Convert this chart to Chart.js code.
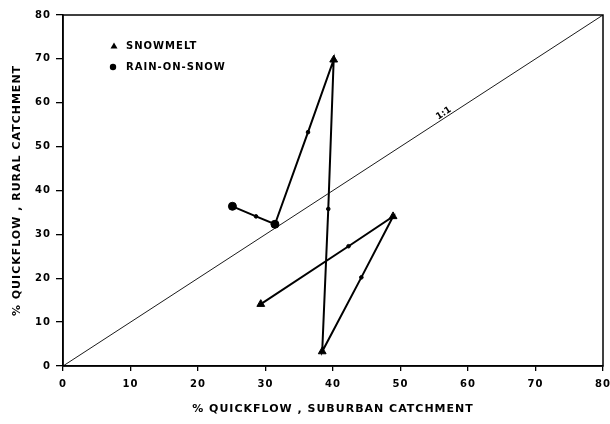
<!DOCTYPE html>
<html>
<head>
<meta charset="utf-8">
<script src="https://cdn.jsdelivr.net/npm/chart.js@4/dist/chart.umd.min.js"></script>
<style>
  html, body { margin: 0; padding: 0; background: #fff; }
  #wrap { width: 610px; height: 424px; }
</style>
</head>
<body>
<div id="wrap"><canvas id="chart"></canvas></div>
<script>
// Hysteresis path of quickflow, suburban vs rural catchment
const pathX = [25.1, 28.6, 31.4, 36.3, 40.1, 39.3, 38.4, 44.2, 48.9, 42.3, 29.3];
const pathY = [36.4, 34.1, 32.3, 53.3, 69.8, 35.8, 3.3, 20.2, 34.1, 27.3, 14.1];
// rain = rain-on-snow event, snow = snowmelt event, mid = direction mark
const pathKind = ['rain', 'mid', 'rain', 'mid', 'snow', 'mid', 'snow', 'mid', 'snow', 'mid', 'snow'];

const lineX = [0, 80];
const lineY = [0, 80];
const lineLabel = '1:1';

const xTicks = [0, 10, 20, 30, 40, 50, 60, 70, 80];
const yTicks = [0, 10, 20, 30, 40, 50, 60, 70, 80];

const legendItems = ['SNOWMELT', 'RAIN-ON-SNOW'];
const xTitle = '% QUICKFLOW , SUBURBAN CATCHMENT';
const yTitle = '% QUICKFLOW , RURAL CATCHMENT';

const FONT = "'DejaVu Sans', sans-serif";

const styleFor = {
    rain: { style: 'circle', r: 4 },
    snow: { style: 'triangle', r: 4.5 },
    mid: { style: 'circle', r: 1.8 }
};

// letter spacing to mimic the wide stencil type of the original
const spacingPlugin = {
    id: 'spacing',
    beforeUpdate(chart) { chart.ctx.letterSpacing = '1px'; },
    beforeDraw(chart) { chart.ctx.letterSpacing = '1px'; }
};

const framePlugin = {
    id: 'frame',
    afterDatasetsDraw(chart) {
        const { ctx, chartArea: a, scales } = chart;
        ctx.save();
        ctx.strokeStyle = '#000';
        ctx.lineWidth = 1.5;
        ctx.strokeRect(a.left, a.top, a.right - a.left, a.bottom - a.top);

        // 1:1 label along the diagonal
        const px = scales.x.getPixelForValue(56.4);
        const py = scales.y.getPixelForValue(57.6);
        const ang = Math.atan2(scales.y.getPixelForValue(1) - scales.y.getPixelForValue(0),
                               scales.x.getPixelForValue(1) - scales.x.getPixelForValue(0));
        ctx.translate(px, py);
        ctx.rotate(ang);
        ctx.fillStyle = '#000';
        ctx.font = 'bold 9px ' + FONT;
        ctx.letterSpacing = '0px';
        ctx.textAlign = 'center';
        ctx.textBaseline = 'middle';
        ctx.fillText(lineLabel, 0, 0);
        ctx.restore();

        // legend inside the plot
        ctx.save();
        ctx.fillStyle = '#000';
        ctx.font = 'bold 10px ' + FONT;
        ctx.letterSpacing = '1px';
        ctx.textBaseline = 'middle';
        ctx.textAlign = 'left';
        const lx = 114, tx = 126;
        const ly = [46, 67];
        // triangle
        ctx.beginPath();
        ctx.moveTo(lx, ly[0] - 3.5);
        ctx.lineTo(lx + 3.5, ly[0] + 2.5);
        ctx.lineTo(lx - 3.5, ly[0] + 2.5);
        ctx.closePath();
        ctx.fill();
        ctx.fillText(legendItems[0], tx, ly[0]);
        // circle
        ctx.beginPath();
        ctx.arc(lx - 1, ly[1], 3.2, 0, Math.PI * 2);
        ctx.fill();
        ctx.fillText(legendItems[1], tx, ly[1]);
        ctx.restore();
    }
};

const ctx = document.getElementById('chart');
new Chart(ctx, {
    type: 'scatter',
    data: {
        datasets: [
            {
                data: lineX.map((x, i) => ({ x, y: lineY[i] })),
                showLine: true,
                borderColor: '#000',
                borderWidth: 0.9,
                pointRadius: 0
            },
            {
                data: pathX.map((x, i) => ({ x, y: pathY[i] })),
                showLine: true,
                borderColor: '#000',
                backgroundColor: '#000',
                borderWidth: 2,
                pointStyle: pathKind.map(k => styleFor[k].style),
                pointRadius: pathKind.map(k => styleFor[k].r),
                pointBorderWidth: 1
            }
        ]
    },
    options: {
        responsive: true,
        maintainAspectRatio: false,
        animation: false,
        layout: { padding: { top: 15, right: 7, left: 0, bottom: 0 } },
        plugins: {
            legend: { display: false },
            tooltip: { enabled: false }
        },
        scales: {
            x: {
                type: 'linear',
                min: 0,
                max: 80,
                afterBuildTicks: s => { s.ticks = xTicks.map(v => ({ value: v })); },
                afterFit: s => { s.height = 58; s.paddingLeft = 0; s.paddingRight = 0; },
                grid: { drawOnChartArea: false, drawTicks: true, tickLength: 5, color: '#000', lineWidth: 1.3 },
                border: { display: true, color: '#000', width: 1.5 },
                ticks: { color: '#000', padding: 7, maxRotation: 0, font: { family: FONT, size: 10, weight: 'bold' } },
                title: {
                    display: true,
                    text: xTitle,
                    color: '#000',
                    padding: { top: 0, bottom: 8 },
                    font: { family: FONT, size: 11, weight: 'bold' }
                }
            },
            y: {
                type: 'linear',
                min: 0,
                max: 80,
                afterBuildTicks: s => { s.ticks = yTicks.map(v => ({ value: v })); },
                afterFit: s => { s.width = 63; s.paddingTop = 0; s.paddingBottom = 0; },
                grid: { drawOnChartArea: false, drawTicks: true, tickLength: 7, color: '#000', lineWidth: 1.3 },
                border: { display: true, color: '#000', width: 1.5 },
                ticks: { color: '#000', padding: 5, font: { family: FONT, size: 10, weight: 'bold' } },
                title: {
                    display: true,
                    text: yTitle,
                    color: '#000',
                    padding: { top: 11, bottom: 0 },
                    font: { family: FONT, size: 11, weight: 'bold' }
                }
            }
        }
    },
    plugins: [spacingPlugin, framePlugin]
});
</script>
</body>
</html>
